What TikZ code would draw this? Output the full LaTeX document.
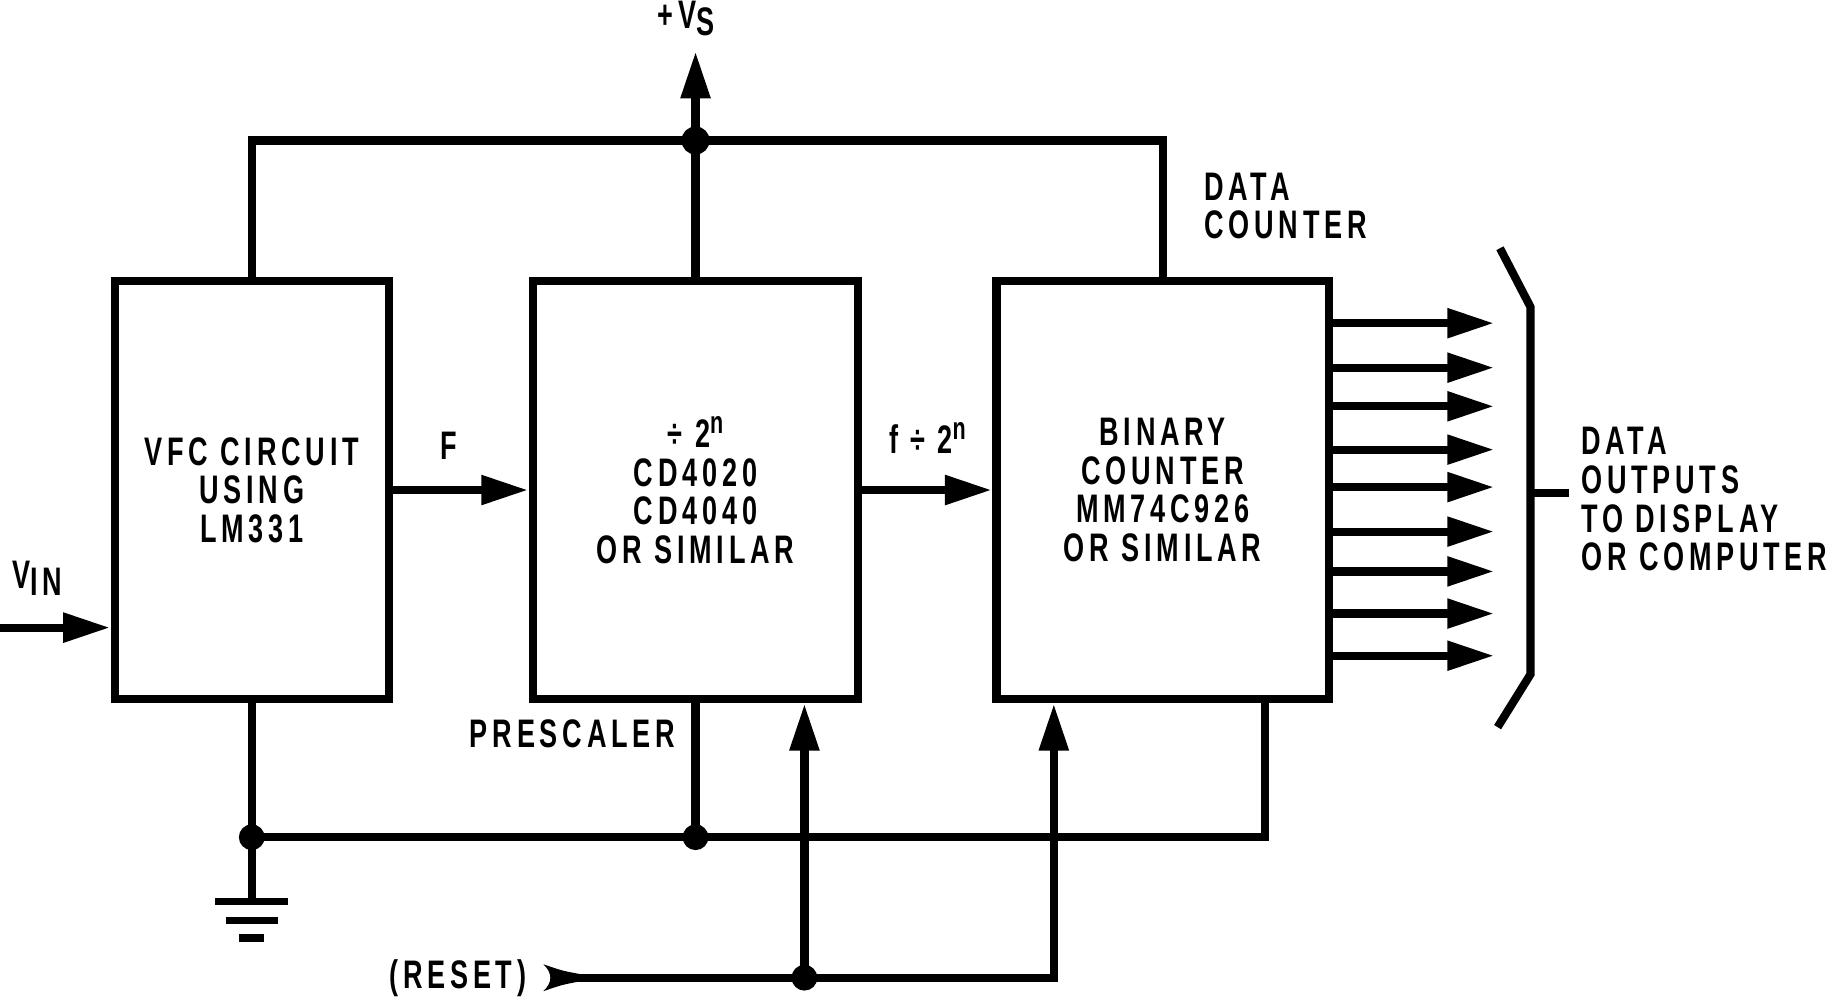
\documentclass[tikz,border=0pt]{standalone}
\usepackage{fontspec}
\setmainfont{Liberation Sans}[FakeStretch=0.68,LetterSpace=12]
\usetikzlibrary{arrows.meta,calc}
\newcommand\supn{\raisebox{12pt}{\fontsize{27}{27}\selectfont n}}
\begin{document}
\begin{tikzpicture}[x=1pt,y=-1pt,
  line width=7pt,
  every node/.style={font=\bfseries\fontsize{34}{33}\selectfont, inner sep=0pt},
  blk/.style={draw, line width=7pt, align=center, outer sep=0pt},
  arr/.style={-{Triangle[length=40pt,width=24pt]}},
  wire/.style={line width=7pt},
  gline/.style={line width=6.5pt}
]
\useasboundingbox (0,0) rectangle (1568,851);

% blocks
\node[blk, minimum width=234pt, minimum height=357pt] (b1) at (215,418.5) {VFC CIRCUIT\\USING\\LM331};
\node[blk, minimum width=278pt, minimum height=357pt] (b2) at (594,418.5) {÷ 2\supn\\CD4020\\CD4040\\OR SIMILAR};
\node[blk, minimum width=284pt, minimum height=357pt] (b3) at (993,418.5) {BINARY\\COUNTER\\MM74C926\\OR SIMILAR};

% labels
\node (vs) at (586,16) {+V\raisebox{-6pt}{S}};
\node (vin) at (32,494) {V\raisebox{-6pt}{IN}};
\node (fl) at (383,381) {F};
\node (fd) at (792,374) {f ÷ 2\supn};
\node[anchor=west, align=left] (dc) at (1025,176) {DATA\\COUNTER};
\node (pre) at (489,627) {PRESCALER};
\node (reset) at (391,835) {(RESET)};
\node[anchor=west, align=left] (dout) at (1347,426.5) {DATA\\OUTPUTS\\TO DISPLAY\\OR COMPUTER};

% supply
\coordinate (tl) at (215,120);
\coordinate (tr) at (993,120);
\coordinate (jt) at (594,120);
\coordinate (vsp) at (594,44);
\draw[wire] (b1.north) -- (tl) -- (tr) -- (b3.north);
\draw[wire] (b2.north) -- (jt);
\draw[wire,arr] (jt) -- (vsp);
\fill (jt) circle (12pt);

% ground rail
\coordinate (jg) at (215,715);
\coordinate (jp) at (594,715);
\coordinate (br) at (1080,715);
\draw[wire] (b1.south) -- (jg) -- (jp) -- (br) -- ([xshift=-55pt]b3.south east);
\draw[wire] (b2.south) -- (jp);
\fill (jg) circle (11pt);
\fill (jp) circle (11pt);

% ground symbol
\coordinate (g) at (215,770);
\draw[wire] (jg) -- (g);
\draw[gline] ([xshift=-31pt]g) -- ([xshift=31pt]g);
\draw[gline] ([shift={(-22,16)}]g) -- ([shift={(22,16)}]g);
\draw[gline] ([shift={(-10.5,31)}]g) -- ([shift={(10.5,31)}]g);

% input
\coordinate (vi) at (0,536);
\draw[wire,arr,shorten >=4pt] (vi) -- (vi -| b1.west);

% signal path
\draw[wire,arr,shorten >=4pt] (b1.east) -- (b2.west);
\draw[wire,arr,shorten >=4pt] (b2.east) -- (b3.west);

% reset
\coordinate (rs) at (494,835);
\coordinate (jr) at (687,835);
\coordinate (rr) at (900,835);
\draw[wire] (rs) -- (jr);
\draw[wire,arr,shorten >=4pt] (jr) -- (rr) -- (rr |- b3.south);
\draw[wire,arr,shorten >=4pt] (jr) -- (jr |- b2.south);
\fill (jr) circle (11pt);
\begin{scope}[shift={(rs)}]
  \fill (-30,-11.5) .. controls (-14,-6) .. (2,-3) -- (2,3) .. controls (-14,6) .. (-30,11.5)
        .. controls (-22,4) and (-22,-4) .. cycle;
\end{scope}

% outputs
\foreach \yy [count=\i] in {276,314,347,384,416,454,488,524,560} {
  \coordinate (o\i) at (1276,\yy);
  \draw[wire,arr] (b3.east |- o\i) -- (o\i);
}

% bracket
\coordinate (k1) at (1281,212);
\coordinate (k2) at (1307,262);
\coordinate (k3) at (1307,576);
\coordinate (k4) at (1279,621);
\coordinate (kt) at (1307,421);
\draw[wire] (k1) -- (k2) -- (k3) -- (k4);
\draw[wire] (kt) -- (1340,421);
\end{tikzpicture}
\end{document}
